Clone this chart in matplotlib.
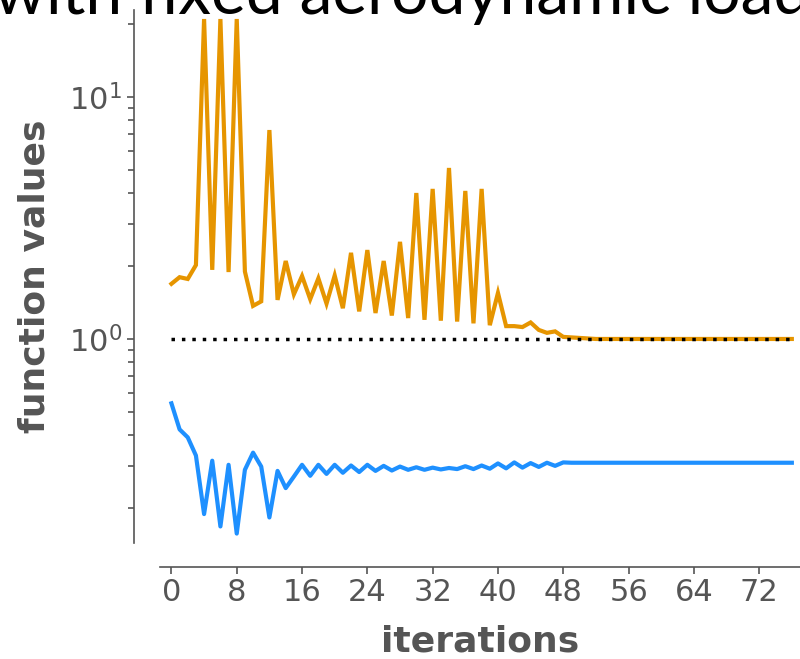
import matplotlib
matplotlib.use("Agg")
import matplotlib.pyplot as plt
from matplotlib.ticker import LogLocator, NullFormatter

# values, one per iteration
iterations = list(range(77))
orange_vals = [1.69, 1.80, 1.77, 2.02, 21.0, 1.93, 21.0, 1.89, 21.0, 1.90,
               1.37, 1.43, 7.3, 1.45, 2.10, 1.53, 1.82, 1.46, 1.78, 1.40,
               1.83, 1.34, 2.27, 1.30, 2.33, 1.28, 2.10, 1.25, 2.52, 1.22,
               4.01, 1.20, 4.17, 1.19, 5.09, 1.18, 4.09, 1.16, 4.17, 1.14,
               1.55, 1.13, 1.13, 1.12, 1.17, 1.09, 1.06, 1.075, 1.02, 1.015,
               1.01, 1.005] + [1.0] * 25
blue_vals = [0.542, 0.423, 0.392, 0.330, 0.189, 0.314, 0.168, 0.302, 0.157, 0.288,
             0.339, 0.297, 0.183, 0.285, 0.242, 0.270, 0.302, 0.272, 0.302, 0.277,
             0.302, 0.280, 0.300, 0.282, 0.302, 0.285, 0.299, 0.286, 0.297, 0.288,
             0.295, 0.288, 0.294, 0.289, 0.293, 0.290, 0.298, 0.290, 0.300, 0.291,
             0.306, 0.292, 0.309, 0.294, 0.307, 0.296, 0.308, 0.299, 0.309] + [0.308] * 28
target = 1.0
xticks = list(range(0, 73, 8))

gray = "#555555"

fig = plt.figure(figsize=(8, 6.59), dpi=100)
ax = fig.add_axes([0.2, 0.176, 0.8, 0.809])

ax.plot(iterations, orange_vals, color="#e69500", lw=3, solid_joinstyle="miter")
ax.plot(iterations, blue_vals, color="#1e90ff", lw=3)
ax.plot([iterations[0], iterations[-1]], [target, target], color="black",
        lw=2.5, linestyle=(0, (1, 2)))

ax.set_yscale("log")
ax.set_ylim(0.1435, 22.9)
ax.set_xlim(-1.4, 77)
ax.set_xticks(xticks)
ax.yaxis.set_major_locator(LogLocator(base=10, numticks=10))
ax.yaxis.set_minor_locator(LogLocator(base=10, subs=range(2, 10), numticks=20))
ax.yaxis.set_minor_formatter(NullFormatter())

# despined look with offset axes
for side in ["top", "right"]:
    ax.spines[side].set_visible(False)
ax.spines["left"].set_position(("outward", 19))
ax.spines["bottom"].set_position(("outward", 17))
for side in ["left", "bottom"]:
    ax.spines[side].set_color(gray)
    ax.spines[side].set_linewidth(1.2)

ax.tick_params(axis="both", which="major", colors=gray, labelsize=22, length=5, width=1.2)
ax.tick_params(axis="y", which="minor", colors=gray, length=4, width=1.2)

ax.set_xlabel("iterations", fontsize=26, fontweight="bold", color=gray, labelpad=12)
ax.set_ylabel("function values", fontsize=26, fontweight="bold", color=gray, labelpad=12)

# title is mostly cut off at the top of the image
fig.text(-0.008, 0.979, "with fixed aerodynamic loads", fontsize=47.5, family="Lato",
         fontweight="normal", color="black", ha="left", va="baseline")

fig.savefig("out.png", dpi=100)
